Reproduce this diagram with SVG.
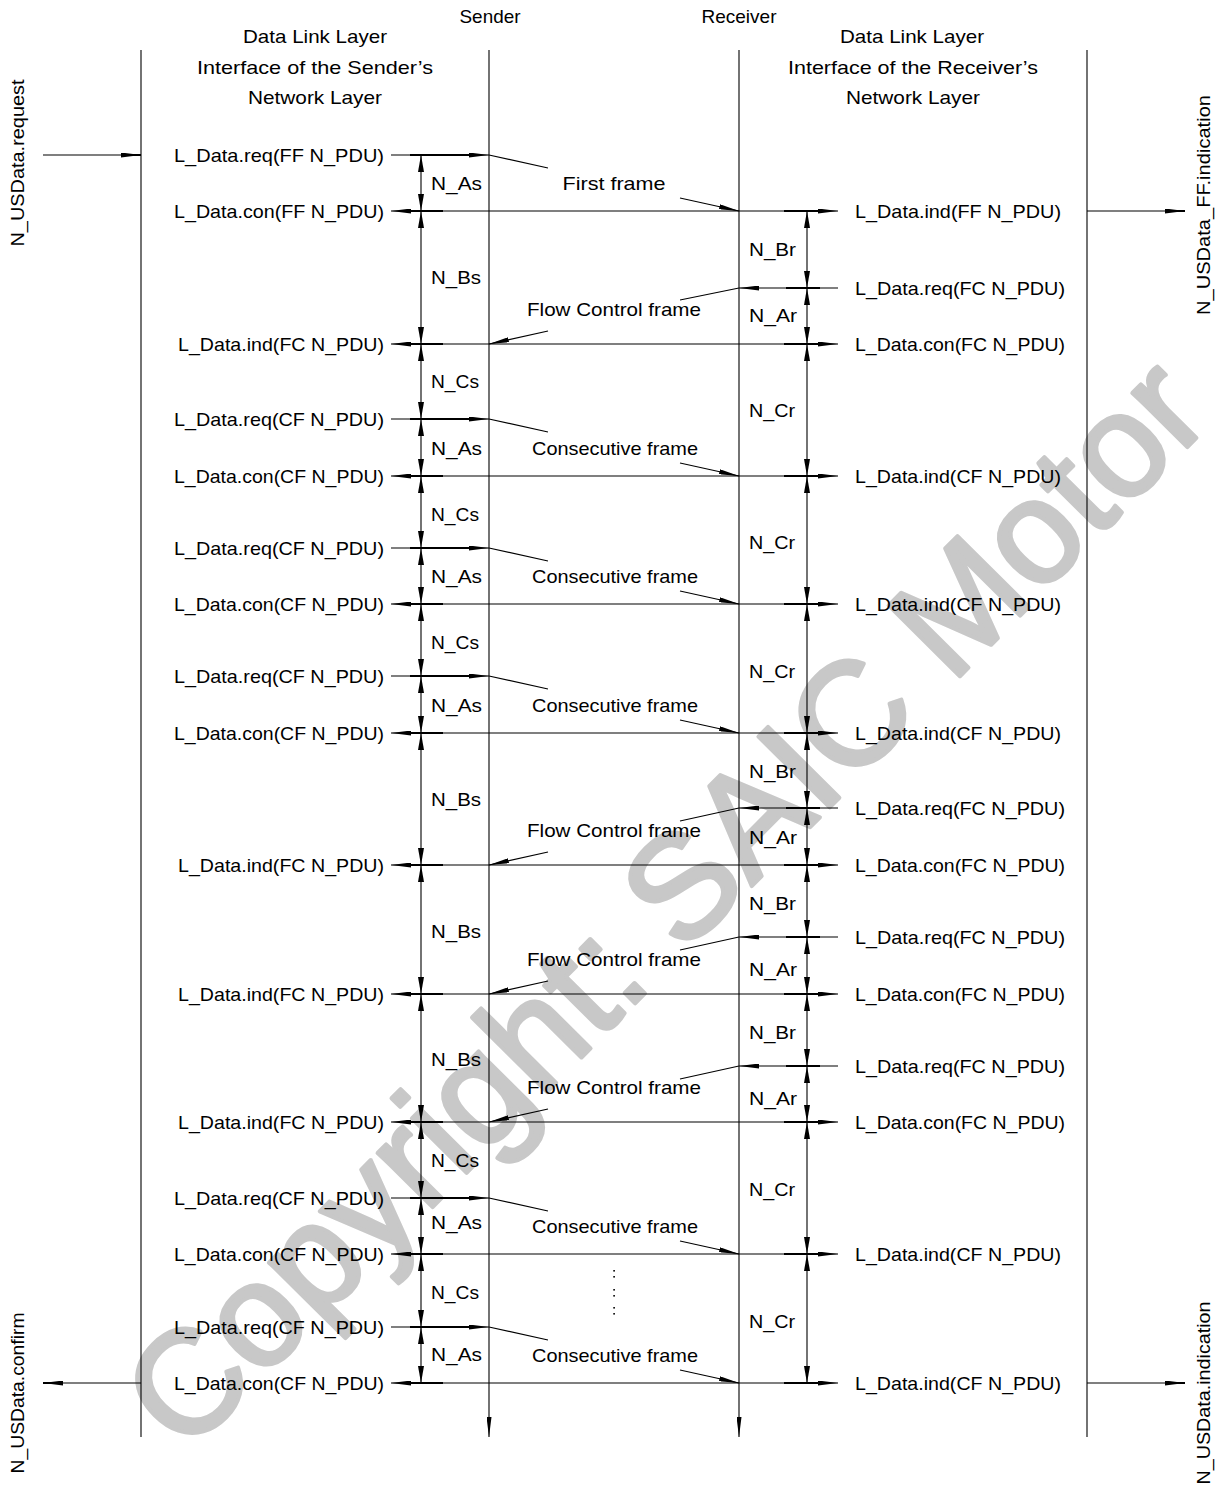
<svg xmlns="http://www.w3.org/2000/svg" width="1219" height="1490" viewBox="0 0 1219 1490">
<defs>
<style>
.t{font-family:"Liberation Sans",Arial,sans-serif;font-size:19px;fill:#000}
.m{text-anchor:middle}
.e{text-anchor:end}
.ln{stroke:#000;stroke-width:1.1;fill:none}
.tk{stroke:#000;stroke-width:2.1;fill:none}
.ar{stroke:#000;stroke-width:1.1;fill:none;marker-end:url(#ah)}
.ar2{stroke:#000;stroke-width:1.1;fill:none;marker-start:url(#ah);marker-end:url(#ah)}
.dim{stroke:#000;stroke-width:1.1;fill:none;marker-start:url(#av);marker-end:url(#av)}
.wm{font-family:"Liberation Sans",Arial,sans-serif;font-size:146px;fill:#c8c8c8;stroke:#c8c8c8;stroke-width:4;stroke-linejoin:round}
</style>
<marker id="ah" viewBox="0 0 20 5" refX="20" refY="2.5" markerWidth="20" markerHeight="5" markerUnits="userSpaceOnUse" orient="auto-start-reverse"><path d="M0,0 L20,2.5 L0,5 z" fill="#000"/></marker>
<marker id="av" viewBox="0 0 17 6" refX="17" refY="3" markerWidth="17" markerHeight="6" markerUnits="userSpaceOnUse" orient="auto-start-reverse"><path d="M0,0 L17,3 L0,6 z" fill="#000"/></marker>
</defs>
<rect width="1219" height="1490" fill="#fff"/>

<g id="watermark">
<text class="wm m" transform="translate(700,938) rotate(-45.2)">Copyright: SAIC Motor</text>
</g>

<g id="headers">
<text class="t m" x="490" y="23" textLength="61" lengthAdjust="spacingAndGlyphs">Sender</text>
<text class="t m" x="739" y="23" textLength="75" lengthAdjust="spacingAndGlyphs">Receiver</text>
<text class="t m" x="315" y="43" textLength="144" lengthAdjust="spacingAndGlyphs">Data Link Layer</text>
<text class="t m" x="315" y="74" textLength="236" lengthAdjust="spacingAndGlyphs">Interface of the Sender’s</text>
<text class="t m" x="315" y="104" textLength="134" lengthAdjust="spacingAndGlyphs">Network Layer</text>
<text class="t m" x="912" y="43" textLength="144" lengthAdjust="spacingAndGlyphs">Data Link Layer</text>
<text class="t m" x="913" y="74" textLength="250" lengthAdjust="spacingAndGlyphs">Interface of the Receiver’s</text>
<text class="t m" x="913" y="104" textLength="134" lengthAdjust="spacingAndGlyphs">Network Layer</text>
</g>

<g id="lifelines">
<line class="ln" x1="141" y1="50" x2="141" y2="1437"/>
<line class="ar" x1="489" y1="50" x2="489" y2="1437"/>
<line class="ar" x1="739" y1="50" x2="739" y2="1437"/>
<line class="ln" x1="1087" y1="50" x2="1087" y2="1437"/>
</g>

<g id="service-primitives">
<text class="t m" transform="translate(24,163) rotate(-90)" textLength="167" lengthAdjust="spacingAndGlyphs">N_USData.request</text>
<text class="t m" transform="translate(1210,205) rotate(-90)" textLength="220" lengthAdjust="spacingAndGlyphs">N_USData_FF.indication</text>
<text class="t m" transform="translate(24,1393) rotate(-90)" textLength="161" lengthAdjust="spacingAndGlyphs">N_USData.confirm</text>
<text class="t m" transform="translate(1210,1393) rotate(-90)" textLength="183" lengthAdjust="spacingAndGlyphs">N_USData.indication</text>
</g>

<g id="sender-primitives">
<text class="t e" x="384" y="162" textLength="210" lengthAdjust="spacingAndGlyphs">L_Data.req(FF N_PDU)</text>
<text class="t e" x="384" y="218" textLength="210" lengthAdjust="spacingAndGlyphs">L_Data.con(FF N_PDU)</text>
<text class="t e" x="384" y="351" textLength="206" lengthAdjust="spacingAndGlyphs">L_Data.ind(FC N_PDU)</text>
<text class="t e" x="384" y="426" textLength="210" lengthAdjust="spacingAndGlyphs">L_Data.req(CF N_PDU)</text>
<text class="t e" x="384" y="483" textLength="210" lengthAdjust="spacingAndGlyphs">L_Data.con(CF N_PDU)</text>
<text class="t e" x="384" y="555" textLength="210" lengthAdjust="spacingAndGlyphs">L_Data.req(CF N_PDU)</text>
<text class="t e" x="384" y="611" textLength="210" lengthAdjust="spacingAndGlyphs">L_Data.con(CF N_PDU)</text>
<text class="t e" x="384" y="683" textLength="210" lengthAdjust="spacingAndGlyphs">L_Data.req(CF N_PDU)</text>
<text class="t e" x="384" y="740" textLength="210" lengthAdjust="spacingAndGlyphs">L_Data.con(CF N_PDU)</text>
<text class="t e" x="384" y="872" textLength="206" lengthAdjust="spacingAndGlyphs">L_Data.ind(FC N_PDU)</text>
<text class="t e" x="384" y="1001" textLength="206" lengthAdjust="spacingAndGlyphs">L_Data.ind(FC N_PDU)</text>
<text class="t e" x="384" y="1129" textLength="206" lengthAdjust="spacingAndGlyphs">L_Data.ind(FC N_PDU)</text>
<text class="t e" x="384" y="1205" textLength="210" lengthAdjust="spacingAndGlyphs">L_Data.req(CF N_PDU)</text>
<text class="t e" x="384" y="1261" textLength="210" lengthAdjust="spacingAndGlyphs">L_Data.con(CF N_PDU)</text>
<text class="t e" x="384" y="1334" textLength="210" lengthAdjust="spacingAndGlyphs">L_Data.req(CF N_PDU)</text>
<text class="t e" x="384" y="1390" textLength="210" lengthAdjust="spacingAndGlyphs">L_Data.con(CF N_PDU)</text>
</g>

<g id="receiver-primitives">
<text class="t" x="855" y="218" textLength="206" lengthAdjust="spacingAndGlyphs">L_Data.ind(FF N_PDU)</text>
<text class="t" x="855" y="295" textLength="210" lengthAdjust="spacingAndGlyphs">L_Data.req(FC N_PDU)</text>
<text class="t" x="855" y="351" textLength="210" lengthAdjust="spacingAndGlyphs">L_Data.con(FC N_PDU)</text>
<text class="t" x="855" y="483" textLength="206" lengthAdjust="spacingAndGlyphs">L_Data.ind(CF N_PDU)</text>
<text class="t" x="855" y="611" textLength="206" lengthAdjust="spacingAndGlyphs">L_Data.ind(CF N_PDU)</text>
<text class="t" x="855" y="740" textLength="206" lengthAdjust="spacingAndGlyphs">L_Data.ind(CF N_PDU)</text>
<text class="t" x="855" y="815" textLength="210" lengthAdjust="spacingAndGlyphs">L_Data.req(FC N_PDU)</text>
<text class="t" x="855" y="872" textLength="210" lengthAdjust="spacingAndGlyphs">L_Data.con(FC N_PDU)</text>
<text class="t" x="855" y="944" textLength="210" lengthAdjust="spacingAndGlyphs">L_Data.req(FC N_PDU)</text>
<text class="t" x="855" y="1001" textLength="210" lengthAdjust="spacingAndGlyphs">L_Data.con(FC N_PDU)</text>
<text class="t" x="855" y="1073" textLength="210" lengthAdjust="spacingAndGlyphs">L_Data.req(FC N_PDU)</text>
<text class="t" x="855" y="1129" textLength="210" lengthAdjust="spacingAndGlyphs">L_Data.con(FC N_PDU)</text>
<text class="t" x="855" y="1261" textLength="206" lengthAdjust="spacingAndGlyphs">L_Data.ind(CF N_PDU)</text>
<text class="t" x="855" y="1390" textLength="206" lengthAdjust="spacingAndGlyphs">L_Data.ind(CF N_PDU)</text>
</g>

<g id="frame-labels">
<text class="t m" x="614" y="190" textLength="103" lengthAdjust="spacingAndGlyphs">First frame</text>
<text class="t m" x="614" y="316" textLength="174" lengthAdjust="spacingAndGlyphs">Flow Control frame</text>
<text class="t m" x="615" y="455" textLength="166" lengthAdjust="spacingAndGlyphs">Consecutive frame</text>
<text class="t m" x="615" y="583" textLength="166" lengthAdjust="spacingAndGlyphs">Consecutive frame</text>
<text class="t m" x="615" y="712" textLength="166" lengthAdjust="spacingAndGlyphs">Consecutive frame</text>
<text class="t m" x="614" y="837" textLength="174" lengthAdjust="spacingAndGlyphs">Flow Control frame</text>
<text class="t m" x="614" y="966" textLength="174" lengthAdjust="spacingAndGlyphs">Flow Control frame</text>
<text class="t m" x="614" y="1094" textLength="174" lengthAdjust="spacingAndGlyphs">Flow Control frame</text>
<text class="t m" x="615" y="1233" textLength="166" lengthAdjust="spacingAndGlyphs">Consecutive frame</text>
<text class="t m" x="615" y="1362" textLength="166" lengthAdjust="spacingAndGlyphs">Consecutive frame</text>
<g id="ellipsis" fill="#000">
<rect x="613.3" y="1270" width="1.6" height="1.6"/><rect x="613.3" y="1276" width="1.6" height="1.6"/>
<rect x="613.3" y="1289" width="1.6" height="1.6"/><rect x="613.3" y="1295" width="1.6" height="1.6"/>
<rect x="613.3" y="1307" width="1.6" height="1.6"/><rect x="613.3" y="1313" width="1.6" height="1.6"/>
</g>
</g>

<g id="timing-labels">
<text class="t" x="431" y="190" textLength="51" lengthAdjust="spacingAndGlyphs">N_As</text>
<text class="t" x="431" y="284" textLength="50" lengthAdjust="spacingAndGlyphs">N_Bs</text>
<text class="t" x="431" y="388" textLength="48" lengthAdjust="spacingAndGlyphs">N_Cs</text>
<text class="t" x="431" y="455" textLength="51" lengthAdjust="spacingAndGlyphs">N_As</text>
<text class="t" x="431" y="521" textLength="48" lengthAdjust="spacingAndGlyphs">N_Cs</text>
<text class="t" x="431" y="583" textLength="51" lengthAdjust="spacingAndGlyphs">N_As</text>
<text class="t" x="431" y="649" textLength="48" lengthAdjust="spacingAndGlyphs">N_Cs</text>
<text class="t" x="431" y="712" textLength="51" lengthAdjust="spacingAndGlyphs">N_As</text>
<text class="t" x="431" y="806" textLength="50" lengthAdjust="spacingAndGlyphs">N_Bs</text>
<text class="t" x="431" y="938" textLength="50" lengthAdjust="spacingAndGlyphs">N_Bs</text>
<text class="t" x="431" y="1066" textLength="50" lengthAdjust="spacingAndGlyphs">N_Bs</text>
<text class="t" x="431" y="1167" textLength="48" lengthAdjust="spacingAndGlyphs">N_Cs</text>
<text class="t" x="431" y="1229" textLength="51" lengthAdjust="spacingAndGlyphs">N_As</text>
<text class="t" x="431" y="1299" textLength="48" lengthAdjust="spacingAndGlyphs">N_Cs</text>
<text class="t" x="431" y="1361" textLength="51" lengthAdjust="spacingAndGlyphs">N_As</text>
<text class="t" x="749" y="256" textLength="47" lengthAdjust="spacingAndGlyphs">N_Br</text>
<text class="t" x="749" y="322" textLength="48" lengthAdjust="spacingAndGlyphs">N_Ar</text>
<text class="t" x="749" y="417" textLength="46" lengthAdjust="spacingAndGlyphs">N_Cr</text>
<text class="t" x="749" y="549" textLength="46" lengthAdjust="spacingAndGlyphs">N_Cr</text>
<text class="t" x="749" y="678" textLength="46" lengthAdjust="spacingAndGlyphs">N_Cr</text>
<text class="t" x="749" y="778" textLength="47" lengthAdjust="spacingAndGlyphs">N_Br</text>
<text class="t" x="749" y="844" textLength="48" lengthAdjust="spacingAndGlyphs">N_Ar</text>
<text class="t" x="749" y="910" textLength="47" lengthAdjust="spacingAndGlyphs">N_Br</text>
<text class="t" x="749" y="976" textLength="48" lengthAdjust="spacingAndGlyphs">N_Ar</text>
<text class="t" x="749" y="1039" textLength="47" lengthAdjust="spacingAndGlyphs">N_Br</text>
<text class="t" x="749" y="1105" textLength="48" lengthAdjust="spacingAndGlyphs">N_Ar</text>
<text class="t" x="749" y="1196" textLength="46" lengthAdjust="spacingAndGlyphs">N_Cr</text>
<text class="t" x="749" y="1328" textLength="46" lengthAdjust="spacingAndGlyphs">N_Cr</text>
</g>

<g id="connectors">
<line class="ar" x1="43" y1="155" x2="141" y2="155"/>
<line class="ar" x1="1087" y1="211" x2="1185" y2="211"/>
<line class="ar" x1="141" y1="1383" x2="43" y2="1383"/>
<line class="ar" x1="1087" y1="1383" x2="1185" y2="1383"/>
<line class="ar" x1="391" y1="155" x2="489" y2="155"/>
<line class="ar" x1="391" y1="419" x2="489" y2="419"/>
<line class="ar" x1="391" y1="548" x2="489" y2="548"/>
<line class="ar" x1="391" y1="676" x2="489" y2="676"/>
<line class="ar" x1="391" y1="1198" x2="489" y2="1198"/>
<line class="ar" x1="391" y1="1327" x2="489" y2="1327"/>
<line class="ar2" x1="391" y1="211" x2="838" y2="211"/>
<line class="ar2" x1="391" y1="344" x2="838" y2="344"/>
<line class="ar2" x1="391" y1="476" x2="838" y2="476"/>
<line class="ar2" x1="391" y1="604" x2="838" y2="604"/>
<line class="ar2" x1="391" y1="733" x2="838" y2="733"/>
<line class="ar2" x1="391" y1="865" x2="838" y2="865"/>
<line class="ar2" x1="391" y1="994" x2="838" y2="994"/>
<line class="ar2" x1="391" y1="1122" x2="838" y2="1122"/>
<line class="ar2" x1="391" y1="1254" x2="838" y2="1254"/>
<line class="ar2" x1="391" y1="1383" x2="838" y2="1383"/>
<line class="ar" x1="838" y1="288" x2="739" y2="288"/>
<line class="ar" x1="838" y1="808" x2="739" y2="808"/>
<line class="ar" x1="838" y1="937" x2="739" y2="937"/>
<line class="ar" x1="838" y1="1066" x2="739" y2="1066"/>
<path class="tk" d="M410,155H470M410,419H470M410,548H470M410,676H470M410,1198H470M410,1327H470"/>
<path class="tk" d="M410,211H443M784,211H819M410,344H443M784,344H819M410,476H443M784,476H819M410,604H443M784,604H819M410,733H443M784,733H819M410,865H443M784,865H819M410,994H443M784,994H819M410,1122H443M784,1122H819M410,1254H443M784,1254H819M410,1383H443M784,1383H819"/>
<path class="tk" d="M786,288H820M786,808H820M786,937H820M786,1066H820"/>
<path class="tk" d="M122,155H141M43,1383H62M1166,211H1185M1166,1383H1185"/>
<path class="ln" d="M489,155L548,168M489,419L548,432M489,548L548,561M489,676L548,689M489,1198L548,1211M489,1327L548,1340"/>
<line class="ar" x1="680" y1="198" x2="739" y2="211"/>
<line class="ar" x1="680" y1="463" x2="739" y2="476"/>
<line class="ar" x1="680" y1="591" x2="739" y2="604"/>
<line class="ar" x1="680" y1="720" x2="739" y2="733"/>
<line class="ar" x1="680" y1="1241" x2="739" y2="1254"/>
<line class="ar" x1="680" y1="1370" x2="739" y2="1383"/>
<path class="ln" d="M739,288L680,300M739,808L680,821M739,937L680,950M739,1066L680,1079"/>
<line class="ar" x1="548" y1="331" x2="489" y2="344"/>
<line class="ar" x1="548" y1="852" x2="489" y2="865"/>
<line class="ar" x1="548" y1="981" x2="489" y2="994"/>
<line class="ar" x1="548" y1="1109" x2="489" y2="1122"/>
<line class="dim" x1="421" y1="155" x2="421" y2="211"/>
<line class="dim" x1="421" y1="211" x2="421" y2="344"/>
<line class="dim" x1="421" y1="344" x2="421" y2="419"/>
<line class="dim" x1="421" y1="419" x2="421" y2="476"/>
<line class="dim" x1="421" y1="476" x2="421" y2="548"/>
<line class="dim" x1="421" y1="548" x2="421" y2="604"/>
<line class="dim" x1="421" y1="604" x2="421" y2="676"/>
<line class="dim" x1="421" y1="676" x2="421" y2="733"/>
<line class="dim" x1="421" y1="733" x2="421" y2="865"/>
<line class="dim" x1="421" y1="865" x2="421" y2="994"/>
<line class="dim" x1="421" y1="994" x2="421" y2="1122"/>
<line class="dim" x1="421" y1="1122" x2="421" y2="1198"/>
<line class="dim" x1="421" y1="1198" x2="421" y2="1254"/>
<line class="dim" x1="421" y1="1254" x2="421" y2="1327"/>
<line class="dim" x1="421" y1="1327" x2="421" y2="1383"/>
<line class="dim" x1="807" y1="211" x2="807" y2="288"/>
<line class="dim" x1="807" y1="288" x2="807" y2="344"/>
<line class="dim" x1="807" y1="344" x2="807" y2="476"/>
<line class="dim" x1="807" y1="476" x2="807" y2="604"/>
<line class="dim" x1="807" y1="604" x2="807" y2="733"/>
<line class="dim" x1="807" y1="733" x2="807" y2="808"/>
<line class="dim" x1="807" y1="808" x2="807" y2="865"/>
<line class="dim" x1="807" y1="865" x2="807" y2="937"/>
<line class="dim" x1="807" y1="937" x2="807" y2="994"/>
<line class="dim" x1="807" y1="994" x2="807" y2="1066"/>
<line class="dim" x1="807" y1="1066" x2="807" y2="1122"/>
<line class="dim" x1="807" y1="1122" x2="807" y2="1254"/>
<line class="dim" x1="807" y1="1254" x2="807" y2="1383"/>
</g>
</svg>
